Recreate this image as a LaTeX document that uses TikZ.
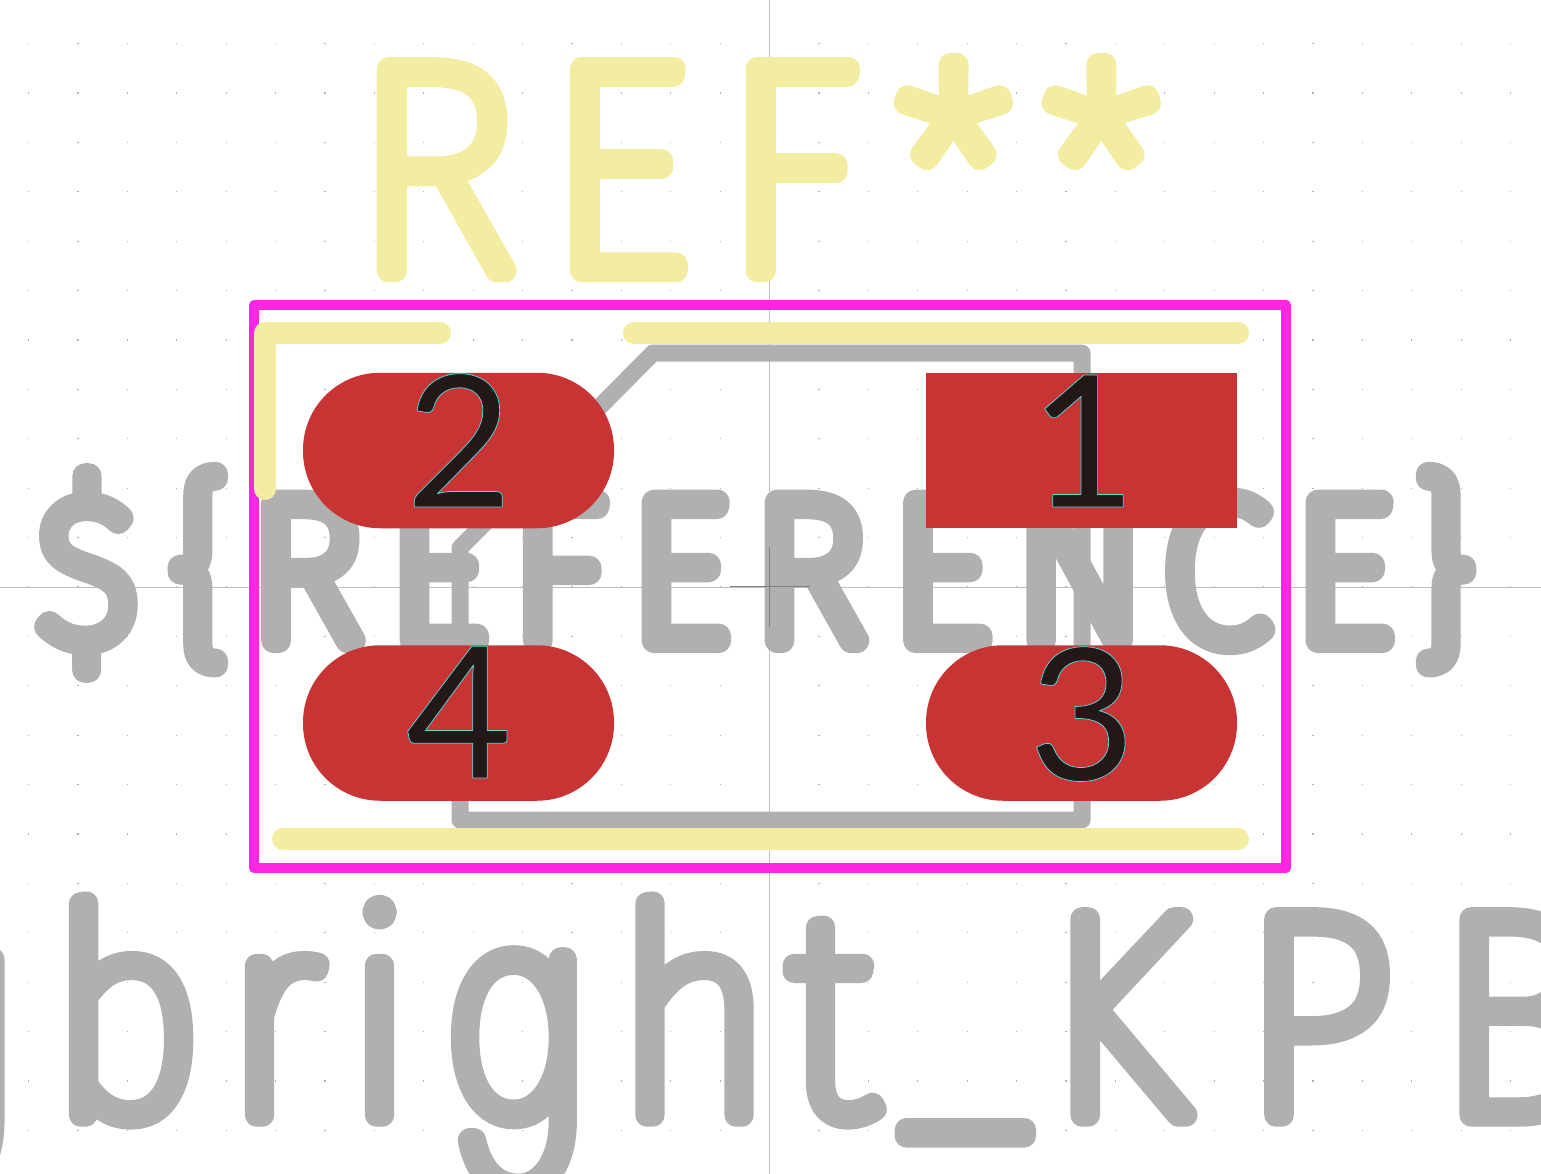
\documentclass[tikz,border=0pt]{standalone}
\usepackage{fontspec}
\newfontfamily\valfont[FakeBold=8,FakeStretch=0.97]{Fira Sans Thin}
\newfontfamily\desfont[FakeBold=12.4,LetterSpace=13,FakeStretch=0.965]{Fira Sans Thin}
\newfontfamily\fpfont[FakeBold=8.1,FakeStretch=0.94]{Fira Sans Thin}
\newfontfamily\gfont[FakeBold=8.5,FakeStretch=0.67]{Poppins Thin}
\newfontfamily\numfont[FakeBold=0.4]{Lato}
\newcommand{\padglyph}[1]{\special{pdf:code 0.35 0.85 0.88 RG}#1}
\usetikzlibrary{positioning}
\definecolor{silkc}{HTML}{F3EDA2}
\definecolor{fabc}{HTML}{B0B0B0}
\definecolor{courtc}{HTML}{FF26E2}
\definecolor{padc}{HTML}{C83434}
\definecolor{numc}{HTML}{231818}
\begin{document}
\begin{tikzpicture}[
    x=1pt, y=-1pt,
    line join=round,
    axis/.style={draw=black!25, line width=1pt},
    silk/.style={draw=silkc, line width=22pt, line cap=round},
    fab/.style={draw=fabc, line width=17pt},
    court/.style={draw=courtc, line width=10pt},
    padround/.style={fill=padc, minimum width=311pt, minimum height=155.5pt, rounded corners=77pt, inner sep=0pt},
    padrect/.style={fill=padc, minimum width=311pt, minimum height=155.5pt, inner sep=0pt},
    padnum/.style={font=\numfont\fontsize{184}{184}\selectfont, text=numc, inner sep=0pt, anchor=base},
    strokeword/.style={inner sep=0pt, anchor=base west}
  ]
    \useasboundingbox (0,0) rectangle (1541,1174);
    \clip (0,0) rectangle (1541,1174);
    % grid
    \foreach \k in {-16,...,16}
      \foreach \m in {-11,...,11}
        \fill[black!30] ({769.5+49.4*\k-0.6},{587+49.4*\m-0.6}) rectangle +(1.2,1.2);
    \coordinate (axl) at (0,587);
    \coordinate (axr) at (1541,587);
    \coordinate (axt) at (769.5,0);
    \coordinate (axb) at (769.5,1174);
    \draw[axis] (axl) -- (axr);
    \draw[axis] (axt) -- (axb);
    % texts
    \node[strokeword, text=silkc, font=\valfont\fontsize{296}{296}\selectfont] (refval) at (353,270.5)
      {R\kern29pt E\kern34pt F\kern34pt\raisebox{-11pt}{*\kern24pt*}};
    \node[strokeword, text=fabc, font=\desfont\fontsize{203}{203}\selectfont] (refname) at (36,640.5)
      {\$\kern29pt\{\kern18pt REFEREN\kern18pt CE\kern21pt\}};
    \node[strokeword, text=fabc, font=\fpfont\fontsize{288}{288}\selectfont] (partname) at (-121,1115)
      {{\gfont g}\kern40pt b\kern22pt r\kern22pt i\kern37pt{\gfont g}\kern34pt h\kern15pt t\kern20pt\raisebox{8pt}{\_}\kern13pt K\kern56pt P\kern44pt B};
    % fabrication outline
    \coordinate (fa) at (653,353);
    \coordinate (fb) at (1082,353);
    \coordinate (fc) at (1082,820);
    \coordinate (fd) at (460,820);
    \coordinate (fe) at (460,548);
    \draw[fab] (fa) -- (fb) -- (fc) -- (fd) -- (fe) -- cycle;
    % centre mark
    \draw[black!50, line width=1pt] (730,586) -- (810,586);
    \draw[black!50, line width=1pt] (769.5,547) -- (769.5,627);
    % courtyard
    \coordinate (ca) at (254,305);
    \coordinate (cb) at (1286,868);
    \draw[court] (ca) rectangle (cb);
    % silkscreen
    \coordinate (sa) at (265,333);
    \coordinate (sb) at (440,333);
    \coordinate (sc) at (265,489);
    \coordinate (sd) at (634,333);
    \coordinate (se) at (1238,333);
    \coordinate (sf) at (283,839);
    \coordinate (sg) at (1238,839);
    \draw[silk] (sc) -- (sa) -- (sb);
    \draw[silk] (sd) -- (se);
    \draw[silk] (sf) -- (sg);
    % pads
    \node[padround] (pad2) at (458.5,450.5) {};
    \node[padrect]  (pad1) at (1081.5,450.5) {};
    \node[padround] (pad4) at (458.5,723) {};
    \node[padround] (pad3) at (1081.5,723) {};
    \node[padnum] (num2) at (459,507) {\padglyph{2}};
    \node[padnum] (num1) at (1083,507) {\padglyph{1}};
    \node[padnum] (num4) at (459,778) {\padglyph{4}};
    \node[padnum] (num3) at (1082,780) {\padglyph{3}};
\end{tikzpicture}
\end{document}
